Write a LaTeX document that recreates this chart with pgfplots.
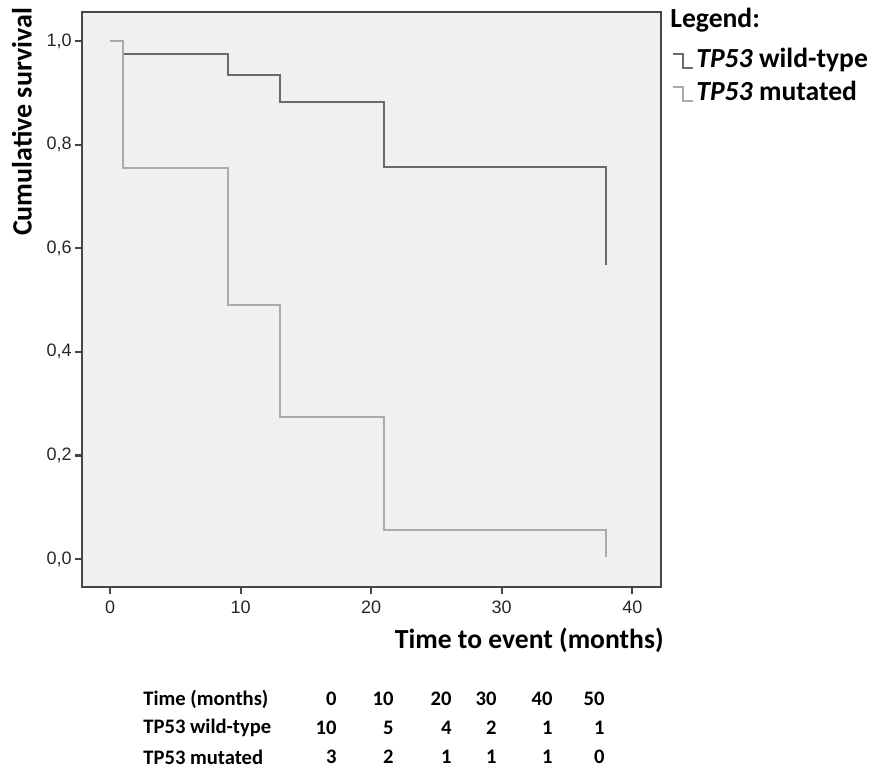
\documentclass[border=0pt]{standalone}
\usepackage{fontspec}
\setmainfont{Carlito}
\newfontfamily\arialf{Liberation Sans}
\usepackage{pgfplots}
\pgfplotsset{compat=1.18}
\definecolor{bg}{HTML}{F0F0F0}
\definecolor{frame}{HTML}{454545}
\definecolor{wt}{HTML}{6A6A6A}
\definecolor{mut}{HTML}{ABABAB}
\begin{document}
\begin{tikzpicture}[x=1pt,y=1pt]
\path[use as bounding box] (0pt,0pt) rectangle (436pt,384pt);
\begin{axis}[
  at={(41pt,90.5pt)}, anchor=south west,
  scale only axis, width=289.5pt, height=287.5pt,
  xmin=-2.15, xmax=42.2, ymin=-0.054, ymax=1.056,
  axis background/.style={fill=bg},
  axis line style={frame, line width=1.2pt},
  xtick={0,10,20,30,40}, ytick={0,0.2,0.4,0.6,0.8,1.0},
  xticklabels={0,10,20,30,40},
  yticklabels={{0,0},{0,2},{0,4},{0,6},{0,8},{1,0}},
  tick style={frame, line width=1.1pt},
  tick align=outside, major tick length=3.5pt,
  xtick pos=bottom, ytick pos=left,
  ticklabel style={font=\arialf\fontsize{9}{10}\selectfont, text=black!85},
  yticklabel style={inner sep=1.5pt},
  legend style={at={(1.019,0.939)}, anchor=north west, draw=none, fill=none,
    font=\bfseries\fontsize{13.8}{16.5}\selectfont, inner sep=0pt, row sep=3.3pt,
    column sep=1pt,
    nodes={inner sep=0pt, text height=10pt, text depth=3pt}},
  legend cell align=left,
  legend image code/.code={\draw[#1] (0pt,3pt) -- (5pt,3pt) -- (5pt,-4pt) -- (10pt,-4pt);},
]
\addplot[const plot, wt, line width=1pt] coordinates {
  (0,1) (1,0.975) (9,0.934) (13,0.882) (21,0.757) (38,0.567)};
\addlegendentry{\textit{TP53} wild-type}
\addplot[const plot, mut, line width=1pt] coordinates {
  (0,1) (1,0.755) (9,0.490) (13,0.275) (21,0.056) (38,0.004)};
\addlegendentry{\textit{TP53} mutated}
\end{axis}
\node[rotate=90, font=\bfseries\fontsize{14}{16}\selectfont] at (11pt,323pt) {Cumulative survival};
\node[anchor=east, font=\bfseries\fontsize{13.8}{16}\selectfont, inner sep=0pt] at (332pt,64pt) {Time to event (months)};
\node[anchor=west, font=\bfseries\fontsize{13.8}{16}\selectfont, inner sep=0pt] at (335pt,374pt) {Legend:};
% risk table
\begin{scope}[every node/.style={font=\bfseries\fontsize{10.3}{12}\selectfont, inner sep=0pt}]
\node[anchor=west] at (71.5pt,34.5pt) {Time (months)};
\node[anchor=west] at (71.5pt,20pt) {TP53 wild-type};
\node[anchor=west] at (71.5pt,5.5pt) {TP53 mutated};
\foreach \x/\a/\b/\c in {168.5/0/10/3, 197/10/5/2, 226/20/4/1, 248.5/30/2/1, 276.5/40/1/1, 302.5/50/1/0}{
  \node[anchor=east] at (\x pt,34.5pt) {\a};
  \node[anchor=east] at (\x pt,20pt) {\b};
  \node[anchor=east] at (\x pt,5.5pt) {\c};
}
\end{scope}
\end{tikzpicture}
\end{document}
